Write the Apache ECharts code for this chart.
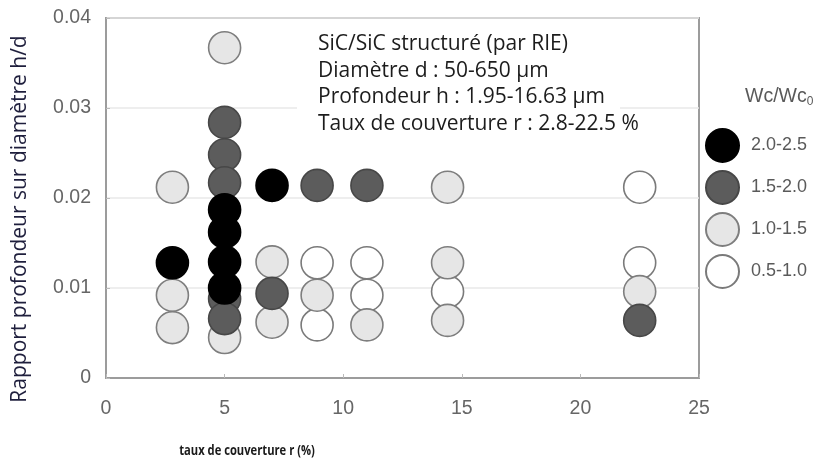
<!DOCTYPE html>
<html><head><meta charset="utf-8">
<script src="https://cdn.jsdelivr.net/npm/echarts@6/dist/echarts.min.js"></script>
<style>html,body{margin:0;padding:0;background:#fff}#c{width:830px;height:461px}</style>
</head><body><div id="c"></div>
<script>
// Categories (Wc/Wc0 ranges)
const categories = ['2.0-2.5', '1.5-2.0', '1.0-1.5', '0.5-1.0'];
// Series values: [taux de couverture r (%), h/d]
const black = [[2.8,0.0128],[5,0.0187],[5,0.0162],[5,0.0129],[5,0.0100],[7,0.0214]];
const darkGray = [[5,0.0284],[5,0.0248],[5,0.0217],[5,0.0088],[5,0.0066],[7,0.0094],[8.9,0.0214],[11,0.0214],[22.5,0.0064]];
const lightGray = [[2.8,0.0212],[2.8,0.0092],[2.8,0.0056],[5,0.0367],[5,0.0045],[7,0.0129],[7,0.0062],[8.9,0.0092],[11,0.0059],[14.4,0.0212],[14.4,0.0128],[14.4,0.0064],[22.5,0.0096]];
const white = [[8.9,0.0128],[8.9,0.0059],[11,0.0128],[11,0.0092],[14.4,0.0096],[22.5,0.0212],[22.5,0.0128]];
// Tick labels
const xTicks = [0,5,10,15,20,25];
const yTicks = [0,0.01,0.02,0.03,0.04];
const annotation = ['SiC/SiC structuré (par RIE)','Diamètre d : 50-650 µm','Profondeur h : 1.95-16.63 µm','Taux de couverture r : 2.8-22.5 %'];

const chart = echarts.init(document.getElementById('c'), null, {renderer:'canvas'});
const tickFont = {color:'#666666', fontSize:19.5, fontFamily:'Liberation Sans, Arial, sans-serif'};
function ser(name, data, fill, border){
  return {name:name, type:'scatter', data:data, symbol:'circle', symbolSize:32,
    itemStyle:{color:fill, borderColor:border, borderWidth:1.6, opacity:1},
    emphasis:{disabled:true}, animation:false};
}
chart.setOption({
  animation:false,
  grid:{left:106, right:131, top:18, bottom:83, show:true, borderColor:'#9c9c9c', borderWidth:2},
  xAxis:{type:'value', min:xTicks[0], max:xTicks[xTicks.length-1], interval:5,
    axisLine:{show:true, lineStyle:{color:'#9c9c9c', width:2}},
    axisTick:{show:true, inside:true, length:4, lineStyle:{color:'#bbb'}},
    axisLabel:Object.assign({margin:21}, tickFont,{formatter:v=>xTicks.includes(v)?String(v):''}),
    splitLine:{show:false}},
  yAxis:{type:'value', min:yTicks[0], max:yTicks[yTicks.length-1], interval:0.01,
    axisLine:{show:true, lineStyle:{color:'#9c9c9c', width:2}},
    axisTick:{show:true, inside:true, length:4, lineStyle:{color:'#bbb'}},
    axisLabel:Object.assign({margin:15}, tickFont,{formatter:v=>{const t=yTicks.find(x=>Math.abs(x-v)<1e-9);return t===undefined?'':(t===0?'0':t.toFixed(2));}}),
    splitLine:{show:true, lineStyle:{color:'#e8e8e8', width:1.5}}},
  legend:{orient:'vertical', left:705, top:128, padding:0, itemWidth:33, itemHeight:33, itemGap:7,
    data:categories, icon:'circle',
    textStyle:{color:'#5a5a5a', fontSize:18, fontFamily:'Liberation Sans, Arial, sans-serif', padding:[0,0,0,7]},
    selectedMode:false},
  graphic:[
    {type:'rect', left:297, top:26, shape:{width:323, height:112}, style:{fill:'#fff'}, z:5},
    {type:'text', left:318, top:31, z:6, style:{text:annotation.join('\n'), fill:'#1c1c1c', font:'21px "Open Sans", sans-serif', lineHeight:26.5}},
    {type:'text', left:745, top:87, z:6, style:{text:'{a|Wc/Wc}{b|0}', rich:{a:{fontSize:19.5, fill:'#5a5a5a', fontFamily:'Liberation Sans, Arial, sans-serif'}, b:{fontSize:12, fill:'#5a5a5a', padding:[9,0,0,0], fontFamily:'Liberation Sans, Arial, sans-serif'}}}},
    {type:'text', x:20, y:219, rotation:Math.PI/2, z:6, style:{text:'Rapport profondeur sur diamètre h/d', fill:'#1e1e3c', font:'21px "Open Sans", sans-serif', align:'center', verticalAlign:'middle'}},
    {type:'text', x:247, y:451, scaleX:0.8, z:6, style:{text:'taux de couverture r (%)', fill:'#1a1a1a', font:'bold 14px "Open Sans", sans-serif', align:'center', verticalAlign:'middle'}}
  ],
  series:[
    ser(categories[3], white, '#ffffff', '#7a7a7a'),
    ser(categories[2], lightGray, '#e6e6e6', '#7e7e7e'),
    ser(categories[1], darkGray, '#5c5c5c', '#474747'),
    ser(categories[0], black, '#000000', '#000000')
  ]
});
</script></body></html>
